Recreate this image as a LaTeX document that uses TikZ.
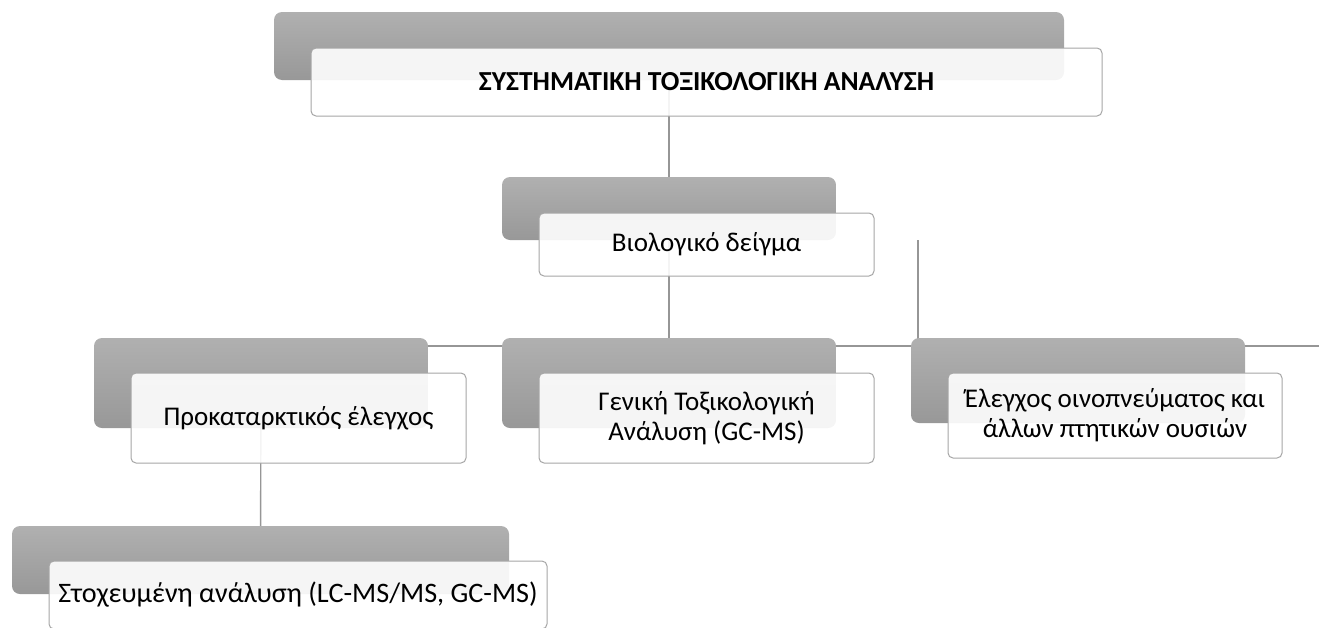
\documentclass[tikz,border=0pt]{standalone}
\usepackage{fontspec}
\setmainfont{Carlito}
\usetikzlibrary{backgrounds}
\definecolor{boxtop}{RGB}{176,176,176}
\definecolor{boxbot}{RGB}{152,152,152}
\definecolor{edge}{RGB}{166,166,166}
\definecolor{wire}{RGB}{150,150,150}
\begin{document}
\begin{tikzpicture}[x=1pt, y=-1pt,
    shadowbox/.style={rectangle, rounded corners=8pt, inner sep=0pt, top color=boxtop, bottom color=boxbot},
    textbox/.style={rectangle, rounded corners=5pt, inner sep=0pt, draw=edge, line width=1pt, fill=white, fill opacity=0.9, text opacity=1, align=center, font=\fontsize{27}{30}\selectfont},
    wire/.style={draw=wire, line width=1.4pt}]
    \useasboundingbox (0,0) rectangle (1319,627);
    % Rubrik
    \node[shadowbox, minimum width=790pt, minimum height=68pt] (topbg) at (669,46) {};
    \node[textbox, minimum width=791pt, minimum height=68pt, font=\fontsize{27.5}{30}\selectfont\bfseries] (top) at (706.5,82) {ΣΥΣΤΗΜΑΤΙΚΗ ΤΟΞΙΚΟΛΟΓΙΚΗ ΑΝΑΛΥΣΗ};
    % Biologiko deigma
    \node[shadowbox, minimum width=334pt, minimum height=63pt] (biobg) at (669,208.5) {};
    \node[textbox, minimum width=335pt, minimum height=63pt] (bio) at (706.5,244.5) {Βιολογικό δείγμα};
    % dritte Ebene
    \node[shadowbox, minimum width=334pt, minimum height=90pt] (prokbg) at (261,383) {};
    \node[textbox, minimum width=335pt, minimum height=90pt] (prok) at (298.5,418) {Προκαταρκτικός έλεγχος};
    \node[shadowbox, minimum width=334pt, minimum height=90pt] (genbg) at (669,383) {};
    \node[textbox, minimum width=335pt, minimum height=90pt] (gen) at (706.5,418) {Γενική Τοξικολογική\\Ανάλυση (GC-MS)};
    \node[shadowbox, minimum width=334pt, minimum height=85pt] (elegbg) at (1078,380.5) {};
    \node[textbox, minimum width=334pt, minimum height=85pt] (eleg) at (1115,415.5) {Έλεγχος οινοπνεύματος και\\άλλων πτητικών ουσιών};
    % Stoxeumeni analysi
    \node[shadowbox, minimum width=497pt, minimum height=68pt] (stoxbg) at (260.5,560) {};
    \node[textbox, minimum width=498pt, minimum height=68pt, font=\fontsize{28.2}{30}\selectfont] (stox) at (298,595) {Στοχευμένη ανάλυση (LC-MS/MS, GC-MS)};
    % Verbindungen hinter den Kaesten
    \coordinate (busR) at (1319,346);
    \coordinate (stub) at (918,240);
    \begin{scope}[on background layer]
        \draw[wire] (topbg.center) -- (biobg.center);
        \draw[wire] (biobg.center) -- (genbg.center);
        \draw[wire] (prokbg.center |- busR) -- (busR);
        \draw[wire] (stub) -- (stub |- busR);
        \draw[wire] (prokbg.center) -- (stoxbg.center);
    \end{scope}
\end{tikzpicture}
\end{document}
